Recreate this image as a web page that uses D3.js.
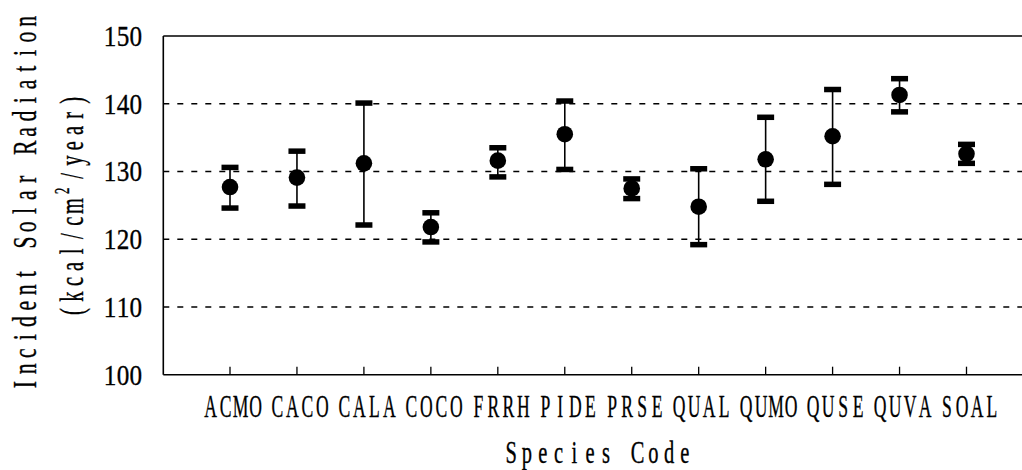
<!DOCTYPE html>
<html>
<head>
<meta charset="utf-8">
<script src="https://cdn.jsdelivr.net/npm/d3@7"></script>
<style>
  html, body { margin: 0; padding: 0; background: #fff; }
  svg { display: block; }
</style>
</head>
<body>
<svg id="chart" width="1022" height="470"></svg>
<script>
// ---- data ----
const categories = ["ACMO","CACO","CALA","COCO","FRRH","PIDE","PRSE","QUAL","QUMO","QUSE","QUVA","SOAL"];
const means      = [127.7, 129.1, 131.2, 121.8, 131.6, 135.5, 127.5, 124.8, 131.8, 135.2, 141.3, 132.6];
const upper      = [130.6, 133.0, 140.1, 123.9, 133.5, 140.4, 128.9, 130.4, 138.0, 142.1, 143.7, 134.0];
const lower      = [124.6, 124.9, 122.1, 119.6, 129.2, 130.3, 126.0, 119.2, 125.6, 128.1, 138.8, 131.2];
const yTicks     = [100, 110, 120, 130, 140, 150];
const gridTicks  = [110, 120, 130, 140];
const yTitle1    = "Incident Solar Radiation";
const yTitle2    = [["(",0],["k",0],["c",0],["a",0],["l",0],["/",0],["c",0],["m",0],["2",1],["/",0],["y",0],["e",0],["a",0],["r",0],[")",0]];
const xTitle     = "Species Code";

const svg = d3.select("#chart");
const pLeft = 163.3, pTop = 36, pBottom = 374.7, pRight = 1022;
const FONT = "'Liberation Serif', 'Times New Roman', serif";

const y = d3.scaleLinear().domain([100, 150]).range([pBottom, pTop]);
const x = d3.scalePoint().domain(categories).range([230, 966.5]);

// monospaced-style text helper: chars placed in equal cells, squeezed horizontally
function monoText(parent, chars, cx, cy, cell, fontSize, sx, rotate) {
  const g = parent.append("g")
    .attr("transform", `translate(${cx},${cy}) rotate(${rotate||0}) scale(${sx},1)`);
  const t = g.append("text")
    .attr("font-family", FONT).attr("font-size", fontSize)
    .attr("text-anchor", "middle").attr("fill", "#000")
    .attr("stroke", "#000").attr("stroke-width", 0.35);
  const n = chars.length;
  chars.forEach((c, i) => {
    const ch = Array.isArray(c) ? c[0] : c;
    const sup = Array.isArray(c) ? c[1] : 0;
    const px = ((i + 0.5) * cell - n * cell / 2) / sx;
    const ts = t.append("tspan").attr("x", px).attr("y", sup ? -fontSize * 0.42 : 0).text(ch);
    if (sup) ts.attr("font-size", fontSize * 0.62);
  });
  return g;
}

// gridlines
svg.append("g").selectAll("line").data(gridTicks).join("line")
  .attr("x1", pLeft).attr("x2", pRight)
  .attr("y1", d => y(d)).attr("y2", d => y(d))
  .attr("stroke", "#000").attr("stroke-width", 1.5)
  .attr("stroke-dasharray", "6,8");

// frame: left axis, top and bottom lines
svg.append("line").attr("x1", pLeft).attr("x2", pLeft).attr("y1", pTop).attr("y2", pBottom)
  .attr("stroke", "#000").attr("stroke-width", 1.6);
svg.append("line").attr("x1", pLeft).attr("x2", pRight).attr("y1", pTop).attr("y2", pTop)
  .attr("stroke", "#000").attr("stroke-width", 1.6);
svg.append("line").attr("x1", pLeft).attr("x2", pRight).attr("y1", pBottom).attr("y2", pBottom)
  .attr("stroke", "#000").attr("stroke-width", 1.6);

// x ticks (inward)
svg.append("g").selectAll("line").data(categories).join("line")
  .attr("x1", d => x(d)).attr("x2", d => x(d))
  .attr("y1", pBottom).attr("y2", pBottom - 8)
  .attr("stroke", "#000").attr("stroke-width", 1.3);

// y tick labels
yTicks.forEach(v => {
  monoText(svg, String(v).split(""), 123, y(v) + 10, 12.9, 30, 0.84, 0);
});

// x tick labels
categories.forEach(c => {
  monoText(svg, c.split(""), x(c) + 3, 417, 15, 32, 0.55, 0);
});

// axis titles
monoText(svg, xTitle.split(""), 598, 462.5, 15.8, 31, 0.66, 0);
monoText(svg, yTitle1.split(""), 36, 203, 15.8, 34, 0.64, -90);
monoText(svg, yTitle2, 83, 206, 15.1, 33, 0.62, -90);

// error bars
const eb = svg.append("g");
eb.selectAll("line.whisker").data(categories).join("line")
  .attr("class", "whisker")
  .attr("x1", d => x(d)).attr("x2", d => x(d))
  .attr("y1", (d, i) => y(upper[i])).attr("y2", (d, i) => y(lower[i]))
  .attr("stroke", "#000").attr("stroke-width", 1.6);
const capW = 17, capH = 5.5;
eb.selectAll("rect.capU").data(categories).join("rect")
  .attr("class", "capU")
  .attr("x", d => x(d) - capW / 2).attr("y", (d, i) => y(upper[i]) - capH / 2)
  .attr("width", capW).attr("height", capH).attr("fill", "#000");
eb.selectAll("rect.capL").data(categories).join("rect")
  .attr("class", "capL")
  .attr("x", d => x(d) - capW / 2).attr("y", (d, i) => y(lower[i]) - capH / 2)
  .attr("width", capW).attr("height", capH).attr("fill", "#000");
eb.selectAll("circle").data(categories).join("circle")
  .attr("cx", d => x(d)).attr("cy", (d, i) => y(means[i]))
  .attr("r", 8.3).attr("fill", "#000");
</script>
</body>
</html>
